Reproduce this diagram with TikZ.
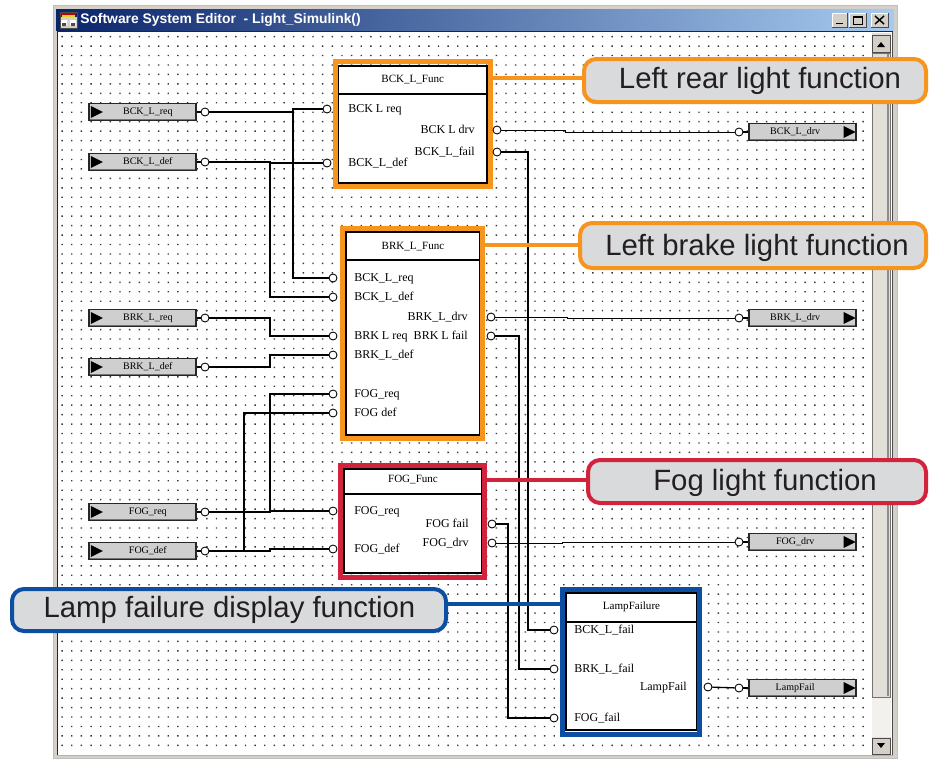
\documentclass[tikz,border=0pt]{standalone}
\usepackage{fontspec}
\setmainfont{Liberation Serif}
\newfontfamily\uisans{Liberation Sans}
\usetikzlibrary{fit}

\definecolor{hiorange}{HTML}{F7941E}
\definecolor{hired}{HTML}{D2233C}
\definecolor{hiblue}{HTML}{0B4EA2}
\definecolor{callgray}{HTML}{D9DADC}
\definecolor{calltext}{HTML}{231F20}
\definecolor{winface}{HTML}{D4D0C8}
\definecolor{tbdark}{HTML}{0A246A}
\definecolor{tblight}{HTML}{A6CAF0}
\definecolor{portgray}{HTML}{CFCFCF}
\definecolor{thumbface}{HTML}{E2DED8}
\definecolor{trackface}{HTML}{F3F1EE}

\tikzset{
  wire/.style={line width=1pt, black},
  thinwire/.style={line width=0.75pt, black},
  portdot/.style={circle, draw=black, fill=white, line width=0.65pt, minimum size=6pt, inner sep=0pt},
  fblock/.style={draw=black, line width=0.9pt, fill=white, inner sep=0pt},
  divider/.style={line width=0.9pt, black},
  frameO/.style={draw=hiorange, line width=3.75pt, inner sep=0pt},
  frameR/.style={draw=hired, line width=3.75pt, inner sep=0pt},
  frameB/.style={draw=hiblue, line width=3.75pt, inner sep=0pt},
  lbl/.style={font=\fontsize{9}{9}\selectfont, inner sep=0pt},
  lblw/.style={lbl, anchor=mid west},
  lble/.style={lbl, anchor=mid east},
  ttl/.style={font=\fontsize{8.3}{8.3}\selectfont, inner sep=0pt},
  portbox/.style={draw=black!85, line width=0.9pt, fill=portgray, minimum width=80.25pt, minimum height=12.75pt, inner sep=0pt},
  boxlbl/.style={font=\fontsize{7.5}{7.5}\selectfont, inner sep=0pt},
  callbox/.style={rounded corners=9pt, fill=callgray, line width=3pt, inner sep=0pt},
  calltxt/.style={font=\uisans\fontsize{22}{22}\selectfont, text=calltext, inner sep=0pt, anchor=base},
  leader/.style={line width=3pt},
  winbtn/.style={fill=winface, draw=black!70, line width=0.5pt},
}

% input port: name, y, text
\newcommand\inport[3]{%
  \node[portbox] (#1) at (142.5,#2) {};
  \draw[black!55, line width=0.7pt] ([shift={(1.5,-1.5)}]#1.south west) -- ([shift={(-1.5,-1.5)}]#1.south east);
  \fill (#1.west) ++(2.5,-6) -- ++(0,12) -- ++(12,-6) -- cycle;
  \node[boxlbl] at ([xshift=4pt]#1.center) {#3};
  \node[portdot] (#1-o) at (205,#2) {};
  \draw[wire] (#1.east) -- (#1-o);
}
% output port: name, y, text
\newcommand\outport[3]{%
  \node[portbox] (#1) at (802.5,#2) {};
  \draw[black!55, line width=0.7pt] ([shift={(1.5,-1.5)}]#1.south west) -- ([shift={(-1.5,-1.5)}]#1.south east);
  \fill (#1.east) ++(-13,-6) -- ++(0,12) -- ++(12,-6) -- cycle;
  \node[boxlbl] at ([xshift=-5.5pt]#1.center) {#3};
  \node[portdot] (#1-i) at (739,#2) {};
  \draw[wire] (#1-i) -- (#1.west);
}

\begin{document}
\begin{tikzpicture}[x=0.75pt, y=-0.75pt]
\useasboundingbox (0,0) rectangle (930,758);
\fill[white] (0,0) rectangle (930,758);

% ---------- editor window ----------
\fill[winface] (53,5) rectangle (897,758);
\draw[black!25, line width=0.5pt] (53,5) rectangle (897,758);
\shade[left color=tbdark, right color=tblight] (56,9) rectangle (894,30);
% window icon
\fill[winface] (60,12) rectangle (77,28);
\fill[tbdark] (60,12) rectangle (77,17);
\fill[red!75!black] (61,13) rectangle (76,14.5);
\fill[yellow!85!black] (62,15) rectangle (75,16.5);
\fill[white] (61,20) rectangle (67,26) (70,20) rectangle (76,26);
\fill[black!70] (62,23) rectangle (66,26) (71,23) rectangle (75,26);
\draw[black!70, line width=0.4pt] (60,12) rectangle (77,28);
\node[anchor=west, inner sep=0pt, text=white, font=\uisans\bfseries\fontsize{10.4}{10.4}\selectfont] (wintitle) at (80,20) {Software System Editor\ \ - Light\_Simulink()};
% caption buttons
\draw[winbtn] (832,13) rectangle (847,27);
\draw[winbtn] (849,13) rectangle (866,27);
\draw[winbtn] (871,13) rectangle (888,27);
\draw[white, line width=0.6pt] (832.5,26.5) -- (832.5,13.5) -- (846.5,13.5) (849.5,26.5) -- (849.5,13.5) -- (865.5,13.5) (871.5,26.5) -- (871.5,13.5) -- (887.5,13.5);
\draw[black, line width=1.2pt] (836,23.5) -- (843,23.5);
\draw[black, line width=0.6pt] (853,16.5) rectangle (862,24);
\draw[black, line width=1.2pt] (853,17) -- (862,17);
\draw[black, line width=1.1pt] (875,16) -- (884,24) (884,16) -- (875,24);

% client area with dotted grid
\fill[white] (57,31) rectangle (893,756);
\fill[black!78]
  \foreach \i in {0,...,83} {
    \foreach \j in {0,...,75} {
      (61.4+\i*9.65, 35.9+\j*9.45) rectangle ++(1.4,1.4)
    }
  };
\draw[black!85, line width=1.1pt] (57.5,756) -- (57.5,31.5) -- (893,31.5);
\draw[black!70, line width=1pt] (892.5,31.5) -- (892.5,756);
\draw[black!30, line width=0.6pt] (57,755.5) -- (893,755.5);

% vertical scroll bar
\fill[thumbface] (872,33) rectangle (891,755);
\fill[trackface] (872,698) rectangle (891,737);
\draw[black!55, line width=0.5pt] (872,53) rectangle (890,697);
\draw[black!45, line width=0.8pt] (888,54) -- (888,696);
\draw[winbtn] (872,35) rectangle (890,52);
\fill (877,47) -- (885,47) -- (881,42) -- cycle;
\draw[winbtn] (872,738) rectangle (890,754);
\fill (877,743) -- (885,743) -- (881,748) -- cycle;

% ---------- function blocks ----------
\node[fblock, fit={(338.5,66) (487,183)}] (bckF) {};
\draw[divider] (bckF.west |- 0,94) -- (bckF.east |- 0,94);
\node[ttl] (bckF-t) at (412.75,80) {BCK\_L\_Func};

\node[fblock, fit={(346,232) (480,435)}] (brkF) {};
\draw[divider] (brkF.west |- 0,260) -- (brkF.east |- 0,260);
\node[ttl] (brkF-t) at (413,247) {BRK\_L\_Func};

\node[fblock, fit={(344,469) (482,573)}] (fogF) {};
\draw[divider] (fogF.west |- 0,494) -- (fogF.east |- 0,494);
\node[ttl] (fogF-t) at (413,480) {FOG\_Func};

\node[fblock, fit={(566,593) (697,730)}] (lampF) {};
\draw[divider] (lampF.west |- 0,622) -- (lampF.east |- 0,622);
\node[ttl] (lampF-t) at (631.5,607) {LampFailure};

% highlight frames
\node[frameO, fit={(335.5,61.5) (490,186.5)}] (bckFr) {};
\node[frameO, fit={(342.5,228.5) (482.5,438.5)}] (brkFr) {};
\node[frameR, fit={(340.5,465.5) (484.5,577.5)}] (fogFr) {};
\node[frameB, fit={(562.5,589.5) (699.5,734.5)}] (lampFr) {};

% block ports and their labels
\node[portdot] (bckF-i1) at (327,109) {};
\node[portdot] (bckF-i2) at (327,163) {};
\node[portdot] (bckF-o1) at (497,130) {};
\node[portdot] (bckF-o2) at (497,152) {};
\node[lblw] at (348,109) {BCK L req};
\node[lblw] at (348,163) {BCK\_L\_def};
\node[lble] at (475,130) {BCK L drv};
\node[lble] at (475,152) {BCK\_L\_fail};

\node[portdot] (brkF-i1) at (333,278) {};
\node[portdot] (brkF-i2) at (333,297) {};
\node[portdot] (brkF-i3) at (333,336) {};
\node[portdot] (brkF-i4) at (333,355) {};
\node[portdot] (brkF-i5) at (333,394) {};
\node[portdot] (brkF-i6) at (333,413) {};
\node[portdot] (brkF-o1) at (491,317) {};
\node[portdot] (brkF-o2) at (491,336) {};
\node[lblw] at (354,278) {BCK\_L\_req};
\node[lblw] at (354,297) {BCK\_L\_def};
\node[lblw] at (354,336) {BRK L req};
\node[lblw] at (354,355) {BRK\_L\_def};
\node[lblw] at (354,394) {FOG\_req};
\node[lblw] at (354,413) {FOG def};
\node[lble] at (468,317) {BRK\_L\_drv};
\node[lble] at (468,336) {BRK L fail};

\node[portdot] (fogF-i1) at (333,511) {};
\node[portdot] (fogF-i2) at (333,549) {};
\node[portdot] (fogF-o1) at (492,524) {};
\node[portdot] (fogF-o2) at (492,543) {};
\node[lblw] at (354,511) {FOG\_req};
\node[lblw] at (354,549) {FOG\_def};
\node[lble] at (469,524) {FOG fail};
\node[lble] at (469,543) {FOG\_drv};

\node[portdot] (lampF-i1) at (554,630) {};
\node[portdot] (lampF-i2) at (554,669) {};
\node[portdot] (lampF-i3) at (554,718) {};
\node[portdot] (lampF-o1) at (708,687) {};
\node[lblw] at (574,630) {BCK\_L\_fail};
\node[lblw] at (574,669) {BRK\_L\_fail};
\node[lblw] at (574,718) {FOG\_fail};
\node[lble] at (687,687) {LampFail};

% ---------- external ports ----------
\inport{inBCKreq}{112}{BCK\_L\_req}
\inport{inBCKdef}{162}{BCK\_L\_def}
\inport{inBRKreq}{318}{BRK\_L\_req}
\inport{inBRKdef}{367}{BRK\_L\_def}
\inport{inFOGreq}{512}{FOG\_req}
\inport{inFOGdef}{551}{FOG\_def}

\outport{outBCKdrv}{132}{BCK\_L\_drv}
\outport{outBRKdrv}{318}{BRK\_L\_drv}
\outport{outFOGdrv}{542}{FOG\_drv}
\outport{outLamp}{688}{LampFail}

% ---------- signal lines ----------
\draw[wire] (inBCKreq-o.east) -- (293,112) |- (bckF-i1.west);
\draw[wire] (293,109) |- (brkF-i1.west);
\draw[wire] (inBCKdef-o.east) -- (270,162) |- (bckF-i2.west);
\draw[wire] (270,162) |- (brkF-i2.west);
\draw[wire] (inBRKreq-o.east) -- (270,318) |- (brkF-i3.west);
\draw[wire] (inBRKdef-o.east) -- (270,367) |- (brkF-i4.west);
\draw[wire] (inFOGreq-o.east) -- (270,512) |- (fogF-i1.west);
\draw[wire] (270,512) |- (brkF-i5.west);
\draw[wire] (inFOGdef-o.east) -- (270,551) |- (fogF-i2.west);
\draw[wire] (244,551) |- (brkF-i6.west);

\draw[thinwire] (bckF-o1.east) -- (565,130) |- (outBCKdrv-i.west);
\draw[wire] (bckF-o2.east) -- (528,152) |- (lampF-i1.west);
\draw[thinwire] (brkF-o1.east) -- (567,317) |- (outBRKdrv-i.west);
\draw[wire] (brkF-o2.east) -- (519,336) |- (lampF-i2.west);
\draw[thinwire] (fogF-o2.east) -- (562,543) |- (outFOGdrv-i.west);
\draw[wire] (fogF-o1.east) -- (508,524) |- (lampF-i3.west);
\draw[wire] (lampF-o1) -- (outLamp-i);

% ---------- callouts ----------
\node[callbox, draw=hiorange, fit={(584,59) (926,102)}] (callRear) {};
\node[callbox, draw=hiorange, fit={(580,223) (926,268)}] (callBrake) {};
\node[callbox, draw=hired, fit={(588,460) (926,503)}] (callFog) {};
\node[callbox, draw=hiblue, fit={(12,589) (446,631)}] (callLamp) {};

\draw[leader, hiorange] (bckFr.east |- 0,78) -- (callRear.west |- 0,78);
\draw[leader, hiorange] (brkFr.east |- 0,245) -- (callBrake.west |- 0,245);
\draw[leader, hired] (fogFr.east |- 0,480) -- (callFog.west |- 0,480);
\draw[leader, hiblue] (callLamp.east |- 0,604) -- (lampFr.west |- 0,604);

\node[calltxt] (callRear-t) at (760,88) {Left rear light function};
\node[calltxt] (callBrake-t) at (757,255) {Left brake light function};
\node[calltxt] (callFog-t) at (765,490) {Fog light function};
\node[calltxt] (callLamp-t) at (229.5,617) {Lamp failure display function};
\end{tikzpicture}
\end{document}
